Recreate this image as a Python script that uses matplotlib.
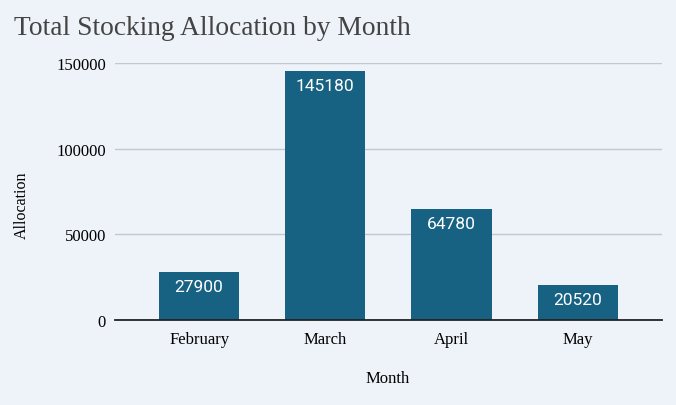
import matplotlib.pyplot as plt

# Data
months = ['February', 'March', 'April', 'May']
allocation = [27900, 145180, 64780, 20520]

bg = '#eef3fa'
bar_color = '#176183'

fig = plt.figure(figsize=(6.76, 4.06), dpi=100, facecolor=bg)
ax = fig.add_axes([0.170, 0.209, 0.809, 0.633], facecolor=bg)

x = range(len(months))
bars = ax.bar(x, allocation, width=0.635, color=bar_color, zorder=3)

for b, v in zip(bars, allocation):
    ax.text(b.get_x() + b.get_width() / 2, v - 4000, str(v), ha='center', va='top',
            color='white', fontsize=12.5, family='Roboto', zorder=4)

ax.set_xlim(-0.667, 3.667)
ax.set_ylim(0, 150000)
ax.set_yticks([0, 50000, 100000, 150000])
ax.set_xticks(list(x))
ax.set_xticklabels(months)
ax.grid(axis='y', color='#c4c8cc', linewidth=1, zorder=0)
ax.tick_params(length=0, labelsize=12)
ax.tick_params(axis='y', pad=6.5)
ax.tick_params(axis='x', pad=8)
for lbl in ax.get_xticklabels() + ax.get_yticklabels():
    lbl.set_family('Liberation Serif')

for s in ['top', 'right', 'left']:
    ax.spines[s].set_visible(False)
ax.spines['bottom'].set_color('#222222')
ax.spines['bottom'].set_linewidth(1.3)
ax.spines['bottom'].set_zorder(5)

fig.text(0.021, 0.93, 'Total Stocking Allocation by Month', fontsize=19.8,
         family='Liberation Serif', color='#444444', va='center', ha='left')
fig.text(0.033, 0.495, 'Allocation', rotation=90, fontsize=11.5,
         family='Liberation Serif', va='center', ha='center')
fig.text(0.574, 0.066, 'Month', fontsize=12,
         family='Liberation Serif', va='center', ha='center')

fig.savefig('out.png', dpi=100, facecolor=bg)
